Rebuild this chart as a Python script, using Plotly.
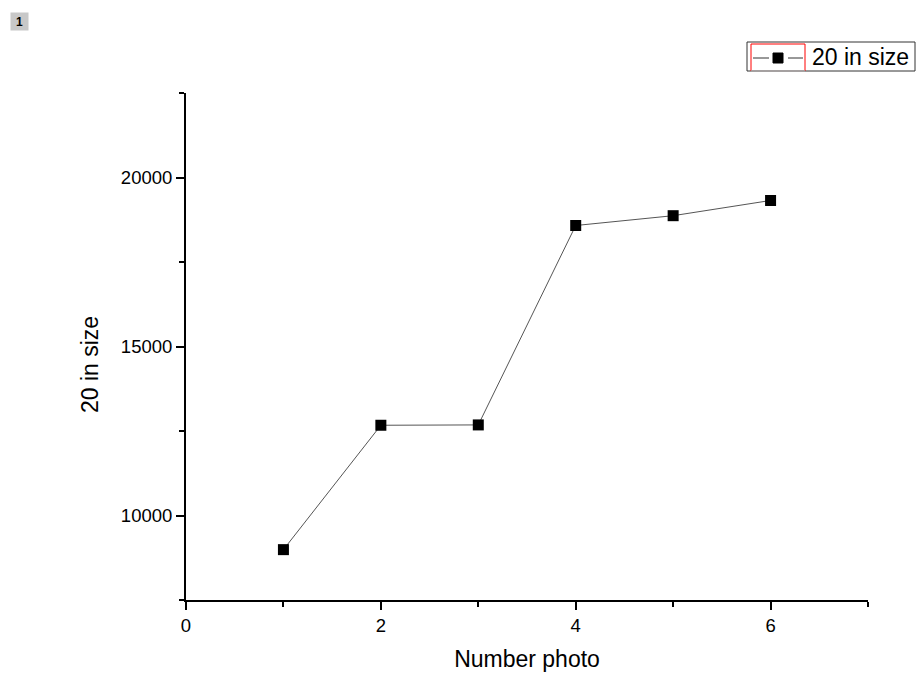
import plotly.graph_objects as go

x_photo = [1, 2, 3, 4, 5, 6]
y_size = [8990, 12670, 12680, 18580, 18870, 19320]
series_name = "20 in size"
x_title = "Number photo"
y_title = "20 in size"
x_ticks = [0, 2, 4, 6]
y_ticks = [10000, 15000, 20000]

# plot-area geometry (pixels) used to place paper-referenced decorations
W, H = 918, 674
L, R, T, B = 186, 868, 93, 600
PW, PH = R - L, B - T


def px(xpix):
    return (xpix - L) / PW


def py(ypix):
    return (B - ypix) / PH


fig = go.Figure()
fig.add_trace(go.Scatter(
    x=x_photo, y=y_size, mode="lines+markers", name=series_name,
    line=dict(color="#555555", width=1),
    marker=dict(symbol="square", size=11, color="black"),
    showlegend=False,
))

font_family = "Liberation Sans, Arial, sans-serif"
fig.update_layout(
    width=W, height=H,
    margin=dict(l=L, r=W - R, t=T, b=H - B, autoexpand=False),
    paper_bgcolor="white", plot_bgcolor="white",
    font=dict(family=font_family, color="black", size=18.5),
    showlegend=False,
    xaxis=dict(
        range=[0, 7], tickvals=x_ticks, ticktext=[str(v) for v in x_ticks],
        showgrid=False, zeroline=False, showline=True, linecolor="black", linewidth=2,
        ticks="outside", ticklen=8, tickwidth=2, tickcolor="black",
        minor=dict(tickvals=[1, 3, 5, 7], ticks="outside", ticklen=5, tickwidth=2, tickcolor="black"),
        title=dict(text=x_title, font=dict(size=23), standoff=16),
        tickfont=dict(size=18.5), automargin=False,
    ),
    yaxis=dict(
        range=[7500, 22500], tickvals=y_ticks, ticktext=[str(v) for v in y_ticks],
        showgrid=False, zeroline=False, showline=True, linecolor="black", linewidth=2,
        ticks="outside", ticklen=8, tickwidth=2, tickcolor="black",
        minor=dict(tickvals=[7500, 12500, 17500, 22500], ticks="outside", ticklen=5, tickwidth=2, tickcolor="black"),
        tickfont=dict(size=18.5), automargin=False,
    ),
)

# y-axis title (placed where the reference has it, slightly below centre)
fig.add_annotation(
    x=px(90), y=py(364), xref="paper", yref="paper", xanchor="center", yanchor="middle",
    text=y_title, textangle=-90, showarrow=False, font=dict(size=23, color="black"),
)

# Origin-style legend box drawn with shapes
fig.add_shape(type="rect", xref="paper", yref="paper",
              x0=px(747), x1=px(915), y0=py(71), y1=py(42),
              line=dict(color="#333333", width=1), fillcolor="white", layer="above")
fig.add_shape(type="rect", xref="paper", yref="paper",
              x0=px(751), x1=px(805), y0=py(71), y1=py(44),
              line=dict(color="red", width=1), fillcolor="rgba(0,0,0,0)", layer="above")
fig.add_shape(type="line", xref="paper", yref="paper",
              x0=px(751), x1=px(805), y0=py(71), y1=py(71),
              line=dict(color="#7ff5f5", width=1), layer="above")
fig.add_shape(type="line", xref="paper", yref="paper",
              x0=px(753), x1=px(769), y0=py(58), y1=py(58),
              line=dict(color="#333333", width=1), layer="above")
fig.add_shape(type="line", xref="paper", yref="paper",
              x0=px(788), x1=px(803), y0=py(58), y1=py(58),
              line=dict(color="#333333", width=1), layer="above")
fig.add_shape(type="rect", xref="paper", yref="paper",
              x0=px(773), x1=px(783), y0=py(63), y1=py(53),
              line=dict(color="black", width=1), fillcolor="black", layer="above")
fig.add_annotation(
    x=px(810), y=py(57), xref="paper", yref="paper", xanchor="left", yanchor="middle",
    text=series_name, showarrow=False, font=dict(size=23, color="black"),
)

# page marker box in the top-left corner
fig.add_annotation(
    x=px(10), y=py(12), xref="paper", yref="paper", xanchor="left", yanchor="top",
    text="<b>1</b>", showarrow=False, font=dict(size=12, color="black"),
    bgcolor="#c8c8c8", width=17, height=17, borderpad=0,
)

fig.write_html("out.html", post_script="document.body.style.margin='0';",
               config={"displayModeBar": False})
